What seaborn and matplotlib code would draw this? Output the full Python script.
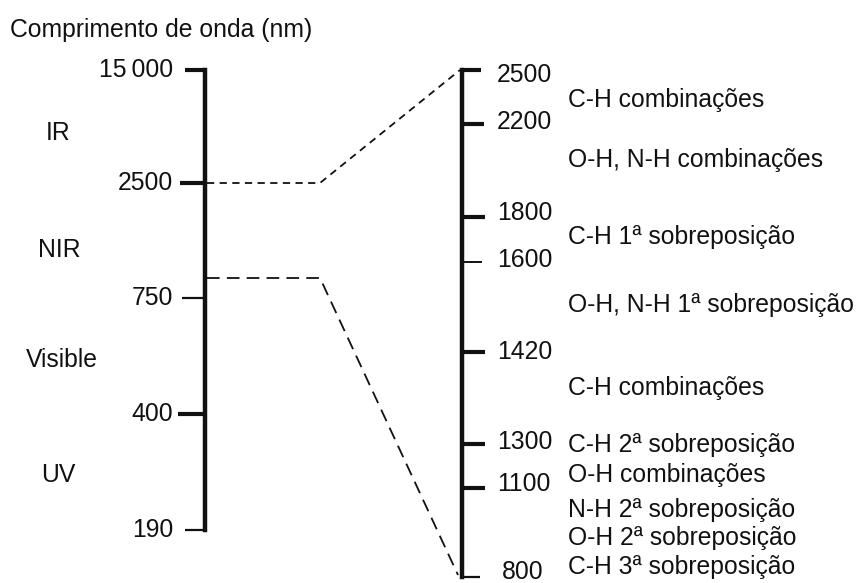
import matplotlib
matplotlib.use("Agg")
import matplotlib.pyplot as plt
import seaborn as sns
import pandas as pd

# scale values and labels
left_ticks = ["15\u2009000", "2500", "750", "400", "190"]
left_regions = ["IR", "NIR", "Visible", "UV"]
right_ticks = ["2500", "2200", "1800", "1600", "1420", "1300", "1100", "800"]
right_bands = ["C-H combinações", "O-H, N-H combinações", "C-H 1ª sobreposição",
               "O-H, N-H 1ª sobreposição", "C-H combinações", "C-H 2ª sobreposição",
               "O-H combinações", "N-H 2ª sobreposição", "O-H 2ª sobreposição",
               "C-H 3ª sobreposição"]

# layout (pixel positions on the 857x583 canvas)
left_tick_y = [70, 183, 298, 414, 530]
left_tick_x0 = [185, 180, 182, 178, 185]
left_tick_lw = [3.0, 3.0, 1.6, 3.0, 1.6]
left_region_y = [133, 250, 360, 475]
left_region_x = [58, 59, 62, 58]
right_tick_y = [70, 124, 217, 262, 352, 444, 488, 577]
right_tick_x1 = [481, 484, 485, 482, 485, 485, 485, 480]
right_tick_lw = [3.0, 3.0, 3.0, 1.4, 3.0, 3.0, 3.0, 1.6]
right_label_y = [75, 122, 213, 260, 352, 442, 484, 572]
right_band_y = [100, 160, 237, 305, 388, 445, 475, 510, 538, 567]

sns.set_theme(style="white")
plt.rcParams['font.family'] = ['Liberation Sans', 'DejaVu Sans']
ink = "#111111"
fs = 17.8

fig = plt.figure(figsize=(8.57, 5.83), dpi=100)
ax = fig.add_axes([0, 0, 1, 1])

ax.text(10, 30, "Comprimento de onda (nm)", fontsize=fs, color=ink, va="center", ha="left")

# left scale
ax.plot([205, 205], [left_tick_y[0], left_tick_y[-1]], color=ink, lw=3.2, solid_capstyle="projecting")
for lab, y, x0, lw in zip(left_ticks, left_tick_y, left_tick_x0, left_tick_lw):
    ax.plot([x0, 205], [y, y], color=ink, lw=lw, solid_capstyle="butt")
    ax.text(173, y, lab, fontsize=fs, color=ink, ha="right", va="center")
for lab, x, y in zip(left_regions, left_region_x, left_region_y):
    ax.text(x, y, lab, fontsize=fs, color=ink, ha="center", va="center")

# right scale
ax.plot([462, 462], [right_tick_y[0], right_tick_y[-1]], color=ink, lw=3.2, solid_capstyle="projecting")
for lab, y, x1, lw, ly in zip(right_ticks, right_tick_y, right_tick_x1, right_tick_lw, right_label_y):
    ax.plot([462, x1], [y, y], color=ink, lw=lw, solid_capstyle="butt")
    ax.text(502 if lab == "800" else 497, ly, lab, fontsize=fs, color=ink, ha="left", va="center")
for lab, y in zip(right_bands, right_band_y):
    ax.text(568, y, lab, fontsize=fs, color=ink, ha="left", va="center")

# connectors from the NIR window to the expanded scale
upper = pd.DataFrame({"x": [207, 320, 460], "y": [183, 183, 70]})
lower = pd.DataFrame({"x": [207, 320, 458], "y": [278, 278, 575]})
sns.lineplot(data=upper, x="x", y="y", ax=ax, color=ink, lw=1.3, sort=False,
             linestyle=(0, (4, 3)))
sns.lineplot(data=lower, x="x", y="y", ax=ax, color=ink, lw=1.3, sort=False,
             linestyle=(0, (7, 4)))
ax.set_xlim(0, 857)
ax.set_ylim(583, 0)
ax.axis("off")

fig.savefig("out.png", dpi=100, facecolor="white")
